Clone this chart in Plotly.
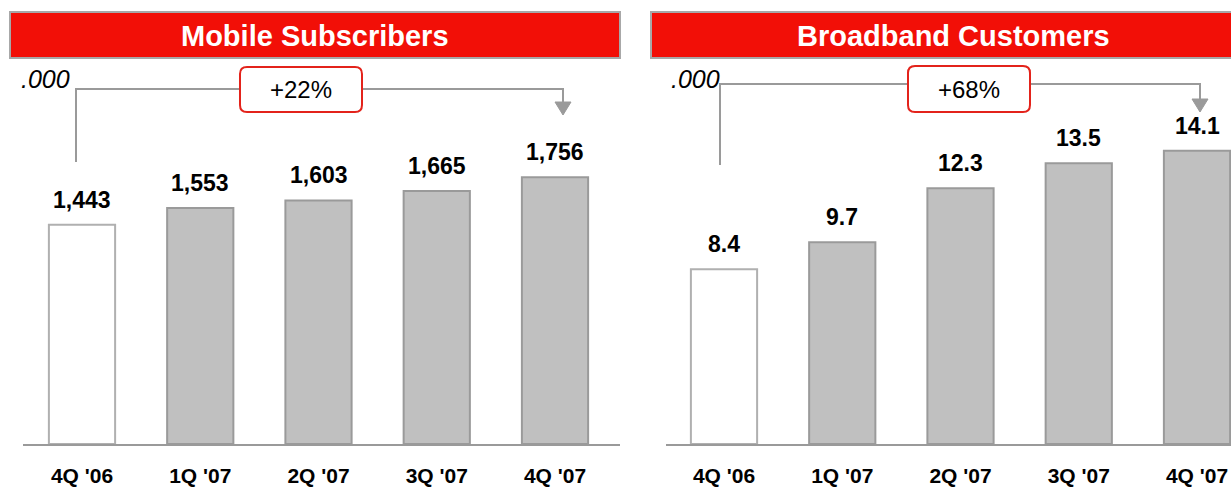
import plotly.graph_objects as go

# Quarterly figures (thousands)
quarters = ["4Q '06", "1Q '07", "2Q '07", "3Q '07", "4Q '07"]
mobile_subscribers = [1443, 1553, 1603, 1665, 1756]
mobile_labels = ["1,443", "1,553", "1,603", "1,665", "1,756"]
broadband_customers = [8.4, 9.7, 12.3, 13.5, 14.1]
broadband_labels = ["8.4", "9.7", "12.3", "13.5", "14.1"]
panel_titles = ["Mobile Subscribers", "Broadband Customers"]
growth_labels = ["+22%", "+68%"]
unit_label = ".000"

W, H = 1231, 487
RED = "#f20f07"
GRAY_LINE = "#9a9a9a"
BAR_FILL = "#c0c0c0"


def px(x, y):
    """Pixel position -> paper coordinates."""
    return x / W, 1 - y / H


def rounded_rect(x0, y0, x1, y1, r):
    def p(x, y):
        a, b = px(x, y)
        return f"{a:.5f},{b:.5f}"
    return (
        f"M {p(x0 + r, y0)} L {p(x1 - r, y0)} Q {p(x1, y0)} {p(x1, y0 + r)} "
        f"L {p(x1, y1 - r)} Q {p(x1, y1)} {p(x1 - r, y1)} "
        f"L {p(x0 + r, y1)} Q {p(x0, y1)} {p(x0, y1 - r)} "
        f"L {p(x0, y0 + r)} Q {p(x0, y0)} {p(x0 + r, y0)} Z"
    )


fig = go.Figure()

fill_colors = ["#ffffff"] + [BAR_FILL] * 4
edge_colors = ["#b0b0b0"] + [GRAY_LINE] * 4

fig.add_trace(go.Bar(
    x=quarters, y=mobile_subscribers, width=0.56,
    marker=dict(color=fill_colors, line=dict(color=edge_colors, width=2)),
    xaxis="x", yaxis="y", showlegend=False, hoverinfo="skip",
))
fig.add_trace(go.Bar(
    x=quarters, y=broadband_customers, width=0.56,
    marker=dict(color=fill_colors, line=dict(color=edge_colors, width=2)),
    xaxis="x2", yaxis="y2", showlegend=False, hoverinfo="skip",
    cliponaxis=False,
))

spacing = 118.25
y_bottom = 1 - 444 / H
y_top = 1 - 60 / H
plot_h = 444 - 60

tick_font = dict(family="Liberation Sans, Arial, sans-serif", size=21,
                 color="#000000", weight="bold")
common_x = dict(
    type="category", showline=True, linecolor=GRAY_LINE, linewidth=2,
    showgrid=False, zeroline=False, ticks="", tickfont=tick_font,
    ticklabelstandoff=12, fixedrange=True, automargin=False,
)
common_y = dict(visible=False, showgrid=False, zeroline=False,
                fixedrange=True, automargin=False)

fig.update_layout(
    width=W, height=H, autosize=False,
    margin=dict(l=0, r=0, t=0, b=0),
    paper_bgcolor="#ffffff", plot_bgcolor="#ffffff",
    xaxis=dict(common_x, domain=[23 / W, 620 / W],
               range=[(23 - 82) / spacing, (620 - 82) / spacing]),
    xaxis2=dict(common_x, domain=[666 / W, 1.0],
                range=[(666 - 724) / spacing, (1231 - 724) / spacing]),
    yaxis=dict(common_y, domain=[y_bottom, y_top], range=[0, plot_h * 6.58]),
    yaxis2=dict(common_y, domain=[y_bottom, y_top], range=[0, plot_h * 0.0481]),
)

shapes = []
annotations = []

# Red header bars with titles
for (x0, x1, cx), title in zip([(10, 620, 315), (651, 1240, 953)], panel_titles):
    a0, b0 = px(x0, 12)
    a1, b1 = px(x1, 58)
    shapes.append(dict(type="rect", xref="paper", yref="paper",
                       x0=a0, y0=b1, x1=a1, y1=b0,
                       fillcolor=RED, line=dict(color="#a8a8a8", width=2)))
    tx, ty = px(cx, 36)
    annotations.append(dict(xref="paper", yref="paper", x=tx, y=ty,
                            text=f"<b>{title}</b>", showarrow=False,
                            xanchor="center", yanchor="middle",
                            font=dict(family="Liberation Sans Narrow, Arial Narrow, Liberation Sans, sans-serif",
                                      size=29, color="#ffffff")))

# Growth brackets: vertical stub, horizontal run, arrow down
brackets = [
    dict(vx=76, vtop=89, vbot=162, hx1=563, hy=89, tip=115, box=(240, 67, 362, 112), unit_x=45),
    dict(vx=720, vtop=84, vbot=165, hx1=1200, hy=84, tip=112, box=(908, 66, 1030, 112), unit_x=695),
]
for br, glabel in zip(brackets, growth_labels):
    p0 = px(br["vx"], br["vbot"])
    p1 = px(br["vx"], br["hy"])
    p2 = px(br["hx1"], br["hy"])
    p3 = px(br["hx1"], br["tip"] - 13)
    path = f"M {p0[0]},{p0[1]} L {p1[0]},{p1[1]} L {p2[0]},{p2[1]} L {p3[0]},{p3[1]}"
    shapes.append(dict(type="path", xref="paper", yref="paper", path=path,
                       line=dict(color=GRAY_LINE, width=2)))
    t0 = px(br["hx1"] - 8, br["tip"] - 13)
    t1 = px(br["hx1"] + 8, br["tip"] - 13)
    t2 = px(br["hx1"], br["tip"])
    shapes.append(dict(type="path", xref="paper", yref="paper",
                       path=f"M {t0[0]},{t0[1]} L {t1[0]},{t1[1]} L {t2[0]},{t2[1]} Z",
                       fillcolor=GRAY_LINE, line=dict(color=GRAY_LINE, width=1)))
    bx0, by0, bx1, by1 = br["box"]
    shapes.append(dict(type="path", xref="paper", yref="paper",
                       path=rounded_rect(bx0, by0, bx1, by1, 7),
                       fillcolor="#ffffff", line=dict(color="#e3231b", width=2)))
    gx, gy = px((bx0 + bx1) / 2, (by0 + by1) / 2)
    annotations.append(dict(xref="paper", yref="paper", x=gx, y=gy, text=glabel,
                            showarrow=False, xanchor="center", yanchor="middle",
                            font=dict(family="Liberation Sans, Arial, sans-serif",
                                      size=24, color="#000000")))
    ux, uy = px(br["unit_x"], 79)
    annotations.append(dict(xref="paper", yref="paper", x=ux, y=uy,
                            text=f"<i>{unit_label}</i>", showarrow=False,
                            xanchor="center", yanchor="middle",
                            font=dict(family="Liberation Sans, Arial, sans-serif",
                                      size=25, color="#000000")))

# Value labels above bars
value_font = dict(family="Liberation Sans, Arial, sans-serif", size=23, color="#000000")
for q, v, lab in zip(quarters, mobile_subscribers, mobile_labels):
    annotations.append(dict(xref="x", yref="y", x=q, y=v, text=f"<b>{lab}</b>",
                            showarrow=False, yanchor="bottom", yshift=10, font=value_font))
for q, v, lab in zip(quarters, broadband_customers, broadband_labels):
    annotations.append(dict(xref="x2", yref="y2", x=q, y=v, text=f"<b>{lab}</b>",
                            showarrow=False, yanchor="bottom", yshift=10, font=value_font))

fig.update_layout(shapes=shapes, annotations=annotations)
fig.write_html("out.html")
